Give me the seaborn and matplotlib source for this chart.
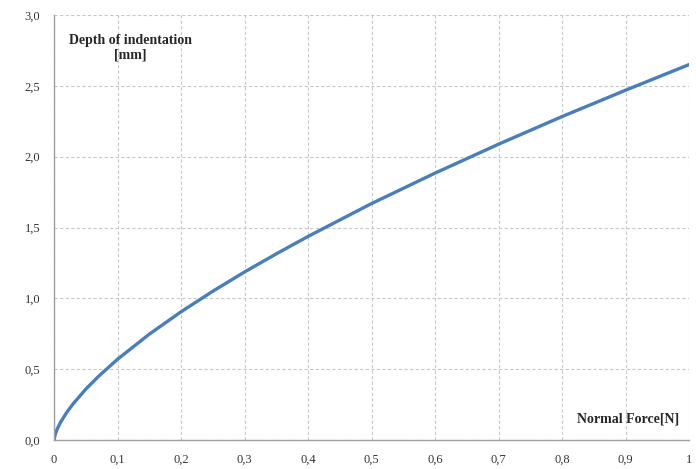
import matplotlib
matplotlib.use("Agg")
import matplotlib.pyplot as plt
import matplotlib.ticker as mticker
import pandas as pd
import seaborn as sns

# values
force = [0.0, 0.002, 0.005, 0.01, 0.02, 0.03, 0.05, 0.07, 0.1, 0.15, 0.2,
         0.25, 0.3, 0.35, 0.4, 0.5, 0.6, 0.7, 0.8, 0.9, 1.0]
depth = [0.0, 0.042, 0.077, 0.123, 0.195, 0.255, 0.359, 0.449, 0.570, 0.747, 0.905,
         1.050, 1.186, 1.314, 1.437, 1.669, 1.884, 2.088, 2.283, 2.469, 2.650]

x_ticks = [0, 0.1, 0.2, 0.3, 0.4, 0.5, 0.6, 0.7, 0.8, 0.9, 1.0]
x_labels = ['0', '0,1', '0,2', '0,3', '0,4', '0,5', '0,6', '0,7', '0,8', '0,9', '1']
y_ticks = [0, 0.5, 1.0, 1.5, 2.0, 2.5, 3.0]

df = pd.DataFrame({'force': force, 'depth': depth})

sns.set_style('white')
plt.rcParams['font.family'] = ['Liberation Serif', 'DejaVu Serif']

fig = plt.figure(figsize=(6.96, 4.69), dpi=100)
ax = fig.add_axes([0.0776, 0.0618, 0.9124, 0.9062])

sns.lineplot(data=df, x='force', y='depth', ax=ax, color='#4a7ebb', linewidth=2.4)

ax.set_xlim(0, 1)
ax.set_ylim(0, 3)
ax.set_xticks(x_ticks)
ax.set_xticklabels(x_labels)
ax.set_yticks(y_ticks)
ax.yaxis.set_major_formatter(mticker.FuncFormatter(lambda v, p: f'{v:.1f}'.replace('.', ',')))
ax.tick_params(axis='both', labelsize=9, length=4, color='#a0a0a0', labelcolor='#333333',
               direction='out', pad=6)
ax.grid(True, linestyle=(0, (3, 2)), color='#c8c8c8', linewidth=0.8)
ax.set_xlabel('')
ax.set_ylabel('')

for side in ['top', 'right']:
    ax.spines[side].set_visible(False)
for side in ['left', 'bottom']:
    ax.spines[side].set_color('#a0a0a0')
    ax.spines[side].set_linewidth(1.0)

ax.text(0.12, 2.77, 'Depth of indentation\n[mm]', ha='center', va='center',
        fontsize=10, fontweight='bold', linespacing=1.1)
ax.text(0.984, 0.15, 'Normal Force[N]', ha='right', va='center',
        fontsize=10, fontweight='bold')

plt.savefig('out.png', dpi=100)
plt.close()
